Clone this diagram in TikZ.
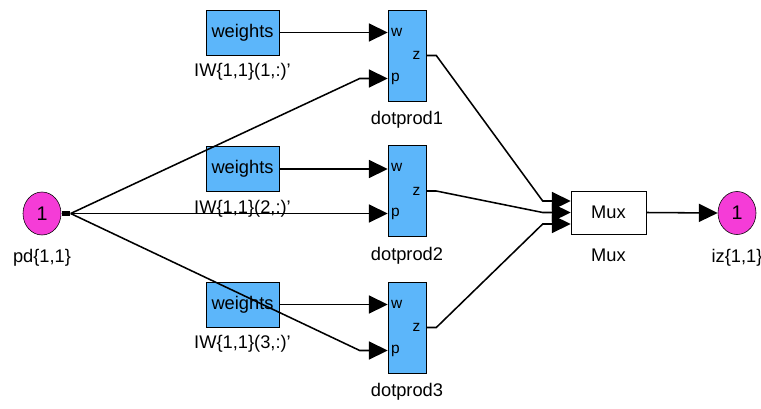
\documentclass[tikz,border=0pt]{standalone}
\usepackage{fontspec}
\setmainfont{Liberation Sans}
\usetikzlibrary{positioning,calc,shapes.geometric,arrows.meta}
\definecolor{slblue}{RGB}{92,182,250}
\definecolor{slpink}{RGB}{245,60,215}

\begin{document}
\begin{tikzpicture}[x=0.025cm, y=-0.025cm,
    every node/.style={font=\fontsize{13}{15}\selectfont},
    wbox/.style={draw, rectangle, fill=slblue, minimum width=1.825cm, minimum height=1.125cm, inner sep=0pt},
    dpbox/.style={draw, rectangle, fill=slblue, minimum width=0.95cm, minimum height=2.275cm, inner sep=0pt},
    muxbox/.style={draw, rectangle, fill=white, minimum width=1.875cm, minimum height=1.075cm, inner sep=0pt},
    iobox/.style={draw, ellipse, fill=slpink, minimum width=0.95cm, minimum height=1.075cm, inner sep=0pt},
    lbl/.style={inner sep=0pt, text height=9.5pt, text depth=3pt},
    plbl/.style={font=\fontsize{11}{13}\selectfont, inner sep=0pt, anchor=west},
    sig/.style={line width=1.1pt, -{Triangle[length=0.47cm, width=0.45cm]}}]
    \useasboundingbox (0,0) rectangle (761,408);

    % inport and outport
    \node[iobox] (pd) at (42,213.5) {\fontsize{14}{16}\selectfont 1};
    \node[fill=black, inner sep=0pt, minimum width=0.22cm, minimum height=0.14cm, right=0pt of pd] (pdo) {};
    \node[lbl, below=0.35cm of pd] (pdl) {pd\{1,1\}};
    \node[iobox] (iz) at (737,213) {\fontsize{14}{16}\selectfont 1};
    \node[lbl, below=0.35cm of iz] (izl) {iz\{1,1\}};

    % weight rows
    \node[wbox] (w1) at (242.5,32.5) {weights};
    \node[lbl, below=0.2cm of w1] (w1l) {IW\{1,1\}(1,:)'};
    \node[wbox] (w2) at (242.5,169) {weights};
    \node[lbl, below=0.2cm of w2] (w2l) {IW\{1,1\}(2,:)'};
    \node[wbox] (w3) at (242.5,304.5) {weights};
    \node[lbl, below=0.2cm of w3] (w3l) {IW\{1,1\}(3,:)'};

    % dot products
    \node[dpbox] (dp1) at (407,55.5) {};
    \node[lbl, below=0.25cm of dp1] (dp1l) {dotprod1};
    \node[dpbox] (dp2) at (407,191) {};
    \node[lbl, below=0.25cm of dp2] (dp2l) {dotprod2};
    \node[dpbox] (dp3) at (407,327.5) {};
    \node[lbl, below=0.25cm of dp3] (dp3l) {dotprod3};
    \foreach \i in {1,2,3} {
        \coordinate (dp\i w) at ($(dp\i.west)+(0,-23.5)$);
        \coordinate (dp\i p) at ($(dp\i.west)+(0,23)$);
        \coordinate (dp\i z) at (dp\i.east);
        \node[plbl] at ($(dp\i w)+(3,0)$) {w};
        \node[plbl] at ($(dp\i p)+(3,0)$) {p};
        \node[plbl] at ($(dp\i z)+(-14,0)$) {z};
    }

    % mux
    \node[muxbox] (mux) at (608.5,212.5) {Mux};
    \node[lbl, below=0.35cm of mux] (muxl) {Mux};
    \coordinate (mux1) at ($(mux.west)+(0,-11.5)$);
    \coordinate (mux2) at (mux.west);
    \coordinate (mux3) at ($(mux.west)+(0,11.5)$);

    % signals
    \foreach \i in {1,2,3} {
        \draw[sig] (w\i.east) -- (w\i.east -| dp\i.west);
        \draw[sig] (dp\i z) -- ++(10,0) -- ([xshift=-0.7cm]mux\i) -- (mux\i);
    }
    \draw[sig] (pdo.east) -- ([xshift=-0.7cm]dp1p) -- (dp1p);
    \draw[sig] (pdo.east) -- (pdo.east -| dp2p);
    \draw[sig] (pdo.east) -- ([xshift=-0.7cm]dp3p) -- (dp3p);
    \draw[sig] (mux.east) -- (iz.west);
\end{tikzpicture}
\end{document}
